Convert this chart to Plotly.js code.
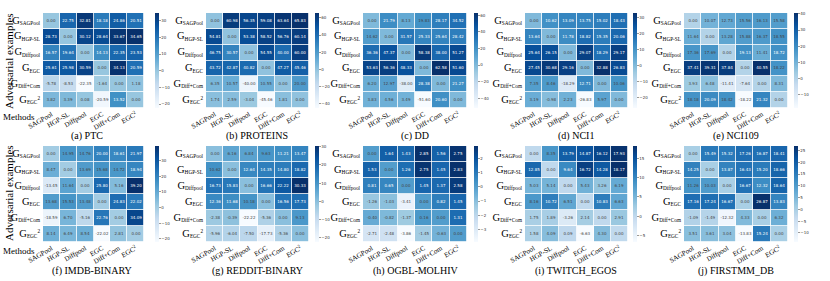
<!DOCTYPE html>
<html>
<head>
<meta charset="utf-8">
<script src="https://cdn.plot.ly/plotly-3.0.1.min.js"></script>
<style>html,body{margin:0;padding:0;background:#fff;}#chart{width:830px;height:281px;}</style>
</head>
<body>
<div id="chart"></div>
<script>
// ---------- DATA ----------
const methods = ['SAGPool', 'HGP-SL', 'Diffpool', 'EGC', 'Diff+Com', 'EGC2'];
const methodTickText = ['SAGPool', 'HGP-SL', 'Diffpool', 'EGC', 'Diff+Com', 'EGC<sup>2</sup>'];
const examples = ['SAGPool', 'HGP-SL', 'Diffpool', 'EGC', 'Diff+Com', 'EGC2'];
const exampleSubs = ['SAGPool', 'HGP-SL', 'Diffpool', 'EGC', 'Diff+Com', 'EGC'];

const datasetNames = ['PTC', 'PROTEINS', 'DD', 'NCI1', 'NCI109',
                      'IMDB-BINARY', 'REDDIT-BINARY', 'OGBL-MOLHIV', 'TWITCH_EGOS', 'FIRSTMM_DB'];
const panelLetters = ['a', 'b', 'c', 'd', 'e', 'f', 'g', 'h', 'i', 'j'];

const ptc = [
  [0.00, 22.75, 32.81, 18.18, 24.86, 20.51],
  [28.73, 0.00, 30.12, 28.64, 33.67, 34.65],
  [16.57, 19.64, 0.00, 14.13, 22.35, 23.53],
  [25.61, 25.98, 30.59, 0.00, 34.13, 20.59],
  [-5.78, -8.53, -22.35, -1.64, 0.00, 1.18],
  [3.82, 3.39, 0.08, -20.59, 13.52, 0.00]
];
const proteins = [
  [0.00, 60.98, 56.35, 59.08, 63.64, 65.83],
  [54.81, 0.00, 53.38, 58.52, 56.76, 60.14],
  [46.75, 30.57, 0.00, 54.55, 40.00, 60.00],
  [43.72, 42.87, 40.82, 0.00, 47.27, 45.46],
  [6.35, 10.57, -40.00, 10.55, 0.00, 20.00],
  [1.74, 2.59, -3.04, -45.46, 1.81, 0.00]
];
const dd = [
  [0.00, 21.79, 8.13, 19.83, 28.17, 34.52],
  [14.62, 0.00, 31.57, 25.33, 25.64, 28.42],
  [36.36, 47.37, 0.00, 58.38, 38.00, 51.27],
  [53.63, 56.36, 48.33, 0.00, 62.58, 51.60],
  [6.20, 12.97, -38.00, 28.38, 0.00, 21.27],
  [3.83, 4.56, 3.49, -51.60, 20.60, 0.00]
];
const nci1 = [
  [0.00, 10.62, 13.09, 13.75, 15.02, 18.43],
  [13.64, 0.00, 11.78, 18.82, 15.35, 20.06],
  [25.64, 26.15, 0.00, 29.07, 18.29, 29.17],
  [27.45, 30.68, 29.16, 0.00, 32.88, 26.83],
  [7.35, 8.46, -18.29, 12.71, 0.00, 10.06],
  [3.19, -0.98, 2.23, -26.83, 5.97, 0.00]
];
const nci109 = [
  [0.00, 10.07, 12.73, 15.56, 16.13, 15.58],
  [11.64, 0.00, 13.28, 15.88, 16.37, 18.55],
  [17.36, 17.69, 0.00, 19.13, 11.41, 18.72],
  [37.41, 39.31, 37.84, 0.00, 40.55, 18.22],
  [3.93, 6.48, -11.41, -7.64, 0.00, 8.31],
  [18.18, 20.09, 18.42, -18.22, 21.32, 0.00]
];
const imdbBinary = [
  [0.00, 14.95, 14.76, 20.00, 18.61, 21.97],
  [8.47, 0.00, 13.69, 15.68, 14.72, 18.94],
  [-13.45, 11.64, 0.00, 25.80, 5.16, 39.20],
  [13.68, 15.53, 13.48, 0.00, 24.83, 22.02],
  [-18.59, 6.70, -5.16, 22.76, 0.00, 34.09],
  [8.14, 6.49, 8.54, -22.02, 2.81, 0.00]
];
const redditBinary = [
  [0.00, 6.16, 6.84, 9.63, 11.21, 13.47],
  [10.62, 0.00, 12.64, 14.35, 14.80, 18.82],
  [16.73, 15.83, 0.00, 16.66, 22.22, 30.33],
  [12.36, 11.68, 10.18, 0.00, 16.56, 17.73],
  [-2.38, -0.39, -22.22, -5.36, 0.00, 9.13],
  [-5.96, -6.04, -7.50, -17.73, -5.36, 0.00]
];
const ogblMolhiv = [
  [0.00, 1.64, 1.43, 2.85, 1.56, 2.75],
  [1.53, 0.00, 1.26, 2.75, 1.45, 2.83],
  [0.81, 0.65, 0.00, 1.45, 1.37, 2.58],
  [-1.26, -1.03, -3.41, 0.00, 0.82, 1.45],
  [-0.40, -0.82, -1.37, 0.16, 0.00, 1.31],
  [-2.71, -2.48, -3.86, -1.45, -0.63, 0.00]
];
const twitchEgos = [
  [0.00, 8.35, 13.79, 14.87, 16.12, 17.93],
  [12.85, 0.00, 9.64, 16.72, 14.28, 18.17],
  [5.03, 5.14, 0.00, 5.43, 3.26, 6.19],
  [8.16, 10.72, 6.51, 0.00, 10.83, 6.63],
  [1.75, 1.89, -3.26, 2.14, 0.00, 2.91],
  [1.58, 4.09, 0.09, -6.63, 4.30, 0.00]
];
const firstmmDb = [
  [0.00, 15.49, 15.32, 17.26, 16.87, 18.41],
  [14.25, 0.00, 13.87, 16.43, 15.20, 18.66],
  [11.26, 10.03, 0.00, 16.67, 12.32, 18.64],
  [17.16, 17.24, 16.67, 0.00, 26.87, 13.83],
  [-1.09, -1.49, -12.32, 4.33, 0.00, 6.32],
  [3.51, 3.61, 3.04, -13.83, 15.24, 0.00]
];
const colorbarSteps = [10, 20, 20, 10, 10, 10, 10, 1, 5, 5];

// ---------- LAYOUT HELPERS ----------
const W = 830, H = 281;
const px = x => x / W;
const py = y => 1 - y / H;

const allData = [ptc, proteins, dd, nci1, nci109, imdbBinary, redditBinary, ogblMolhiv, twitchEgos, firstmmDb];
const colL = [43, 206, 363, 525, 684];
const colR = [144, 309, 467, 628, 788];
const cbX = [155, 315, 474, 633, 794];
const rowT = [13, 146];
const rowB = [108, 242];
const titleX = [87, 257, 415, 576, 736, 92, 257, 415, 576, 736];
const titleY = [136, 271];

const blues = [
  [0.0, '#f7fbff'], [0.125, '#deebf7'], [0.25, '#c6dbef'], [0.375, '#9ecae1'],
  [0.5, '#6baed6'], [0.625, '#4292c6'], [0.75, '#2171b5'], [0.875, '#08519c'], [1.0, '#08306b']
];

const rowTickText = exampleSubs.map((s, i) => {
  let t = '<span style="font-size:10.5px">G</span><sub>' + s + '</sub>';
  if (i === 5) t += '<sup>2</sup>';
  return t;
});

const traces = [];
const layout = {
  width: W, height: H,
  margin: {l: 0, r: 0, t: 0, b: 0},
  paper_bgcolor: '#fff', plot_bgcolor: '#fff',
  showlegend: false,
  font: {family: 'Liberation Serif', color: '#000'},
  annotations: []
};

for (let i = 0; i < 10; i++) {
  const r = Math.floor(i / 5), c = i % 5;
  const xa = 'x' + (i + 1), ya = 'y' + (i + 1);
  const xk = 'xaxis' + (i + 1), yk = 'yaxis' + (i + 1);
  const z = allData[i];
  traces.push({
    type: 'heatmap',
    x: methods, y: examples, z: z,
    xaxis: xa, yaxis: ya,
    colorscale: blues,
    xgap: 0.8, ygap: 0.8,
    texttemplate: '%{z:.2f}',
    textfont: {family: 'DejaVu Sans', size: 4},
    hoverinfo: 'skip',
    colorbar: {
      x: px(cbX[c]), xanchor: 'left',
      y: py(rowT[r]), yanchor: 'top',
      len: (rowB[r] - rowT[r]) / H, lenmode: 'fraction',
      thickness: 4, thicknessmode: 'pixels',
      outlinewidth: 0,
      ticks: 'outside', ticklen: 2, tickwidth: 0.5, tickcolor: '#333',
      dtick: colorbarSteps[i],
      tickfont: {family: 'DejaVu Sans', size: 4, color: '#333'},
      xpad: 0, ypad: 0
    }
  });
  layout[xk] = {
    domain: [px(colL[c]), px(colR[c])],
    anchor: ya,
    type: 'category',
    tickmode: 'array', tickvals: methods, ticktext: methodTickText,
    tickangle: -30,
    tickfont: {family: 'Liberation Serif', size: 7, color: '#000'},
    ticks: '', showgrid: false, zeroline: false, showline: false,
    ticklabelstandoff: 0
  };
  layout[yk] = {
    domain: [py(rowB[r]), py(rowT[r])],
    anchor: xa,
    type: 'category',
    autorange: 'reversed',
    tickmode: 'array', tickvals: examples, ticktext: rowTickText,
    tickfont: {family: 'Liberation Serif', size: 7.5, color: '#000'},
    ticks: '', showgrid: false, zeroline: false, showline: false,
    ticklabelstandoff: 2
  };
  layout.annotations.push({
    xref: 'paper', yref: 'paper',
    x: px(titleX[i]), y: py(titleY[r]),
    xanchor: 'center', yanchor: 'middle',
    text: '(' + panelLetters[i] + ') ' + datasetNames[i],
    showarrow: false,
    font: {family: 'Liberation Serif', size: 10, color: '#000'}
  });
}

// shared axis labels
[61, 193].forEach(cy => {
  layout.annotations.push({
    xref: 'paper', yref: 'paper', x: px(9), y: py(cy),
    xanchor: 'center', yanchor: 'middle', textangle: -90,
    text: 'Adversarial examples', showarrow: false,
    font: {family: 'Liberation Serif', size: 11, color: '#000'}
  });
});
[117, 251].forEach(cy => {
  layout.annotations.push({
    xref: 'paper', yref: 'paper', x: px(19), y: py(cy),
    xanchor: 'center', yanchor: 'middle',
    text: 'Methods', showarrow: false,
    font: {family: 'Liberation Serif', size: 9, color: '#000'}
  });
});

Plotly.newPlot('chart', traces, layout, {staticPlot: true, displayModeBar: false});
</script>
</body>
</html>
